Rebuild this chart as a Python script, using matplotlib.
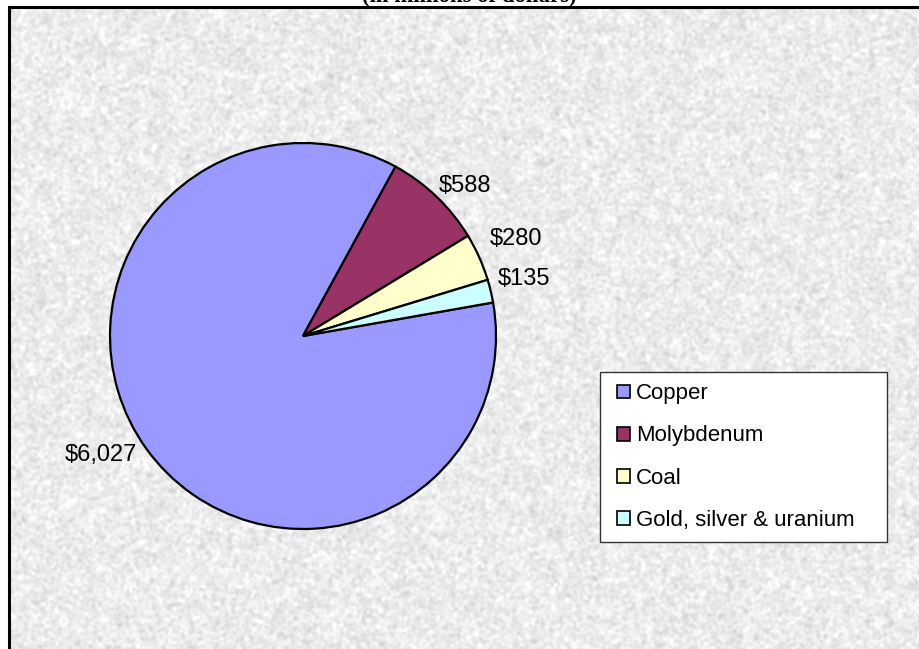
import numpy as np
import matplotlib.pyplot as plt
from matplotlib.patches import Rectangle, Patch

# Revenue by segment, in millions of dollars
categories = ['Copper', 'Molybdenum', 'Coal', 'Gold, silver & uranium']
values = [6027, 588, 280, 135]
value_labels = ['$6,027', '$588', '$280', '$135']
colors = ['#9999FF', '#993366', '#FFFFCC', '#CCFFFF']

W, H = 919, 649
plt.rcParams['font.family'] = ['Liberation Sans', 'DejaVu Sans']
fig = plt.figure(figsize=(W / 100, H / 100), dpi=100)
fig.patch.set_facecolor('white')


def smooth(a, s):
    fy = np.fft.fftfreq(a.shape[0])[:, None]
    fx = np.fft.fftfreq(a.shape[1])[None, :]
    g = np.exp(-2 * np.pi ** 2 * s ** 2 * (fx ** 2 + fy ** 2))
    return np.real(np.fft.ifft2(np.fft.fft2(a) * g))


# granite-style backdrop for the plot area
rng = np.random.default_rng(7)
tex = smooth(rng.standard_normal((H, W)), 1.3) + 0.8 * smooth(rng.standard_normal((H, W)), 4.0)
tex = (tex - tex.mean()) / tex.std()
gray = np.clip(0.925 + 0.03 * tex, 0, 1)

bg = fig.add_axes([8.5 / W, 0, 1 - 8.5 / W, 1 - 7.3 / H])
bg.imshow(gray, cmap='gray', vmin=0, vmax=1, aspect='auto', interpolation='bilinear')
bg.set_xticks([])
bg.set_yticks([])
for side in ('right', 'bottom'):
    bg.spines[side].set_visible(False)
for side in ('left', 'top'):
    bg.spines[side].set_linewidth(2.2)
    bg.spines[side].set_color('black')

fig.text(469.5 / W, 1 - 2 / H, '(in millions of dollars)', ha='center', va='baseline',
         fontsize=16.4, fontweight='bold', family='Liberation Serif')

# pie, centre (303, 336) px, radius 193 px
cx, cy, r = 303, 336, 193
ax = fig.add_axes([(cx - r) / W, (H - cy - r) / H, 2 * r / W, 2 * r / H])
wedges, _ = ax.pie(values, colors=colors, startangle=10, counterclock=False,
                   wedgeprops=dict(edgecolor='black', linewidth=1.6))
ax.set_xlim(-1, 1)
ax.set_ylim(-1, 1)
ax.set_axis_off()

nudge = [0, 1.5, 3.5, 3]
dist = [1.055, 1.05, 1.09, 1.05]
for w, lab, dn, d in zip(wedges, value_labels, nudge, dist):
    ang = np.deg2rad((w.theta1 + w.theta2) / 2 + dn)
    x, y = d * np.cos(ang), d * np.sin(ang)
    ax.text(x, y, lab, ha='left' if x > 0 else 'right', va='center',
            fontsize=17, clip_on=False)

# legend box
fig.add_artist(Rectangle((600 / W, 1 - 542 / H), 287 / W, 170 / H, transform=fig.transFigure,
                         facecolor='white', edgecolor='#333333', linewidth=1.0, zorder=2))
handles = [Patch(facecolor=c, edgecolor='black', linewidth=1.2) for c in colors]
fig.legend(handles, categories, loc='center left', bbox_to_anchor=(617 / W, 1 - 457 / H),
           frameon=False, fontsize=16, handlelength=0.59, handleheight=0.59,
           handletextpad=0.27, labelspacing=0.95, borderpad=0, borderaxespad=0)

fig.savefig('out.png', dpi=100)
